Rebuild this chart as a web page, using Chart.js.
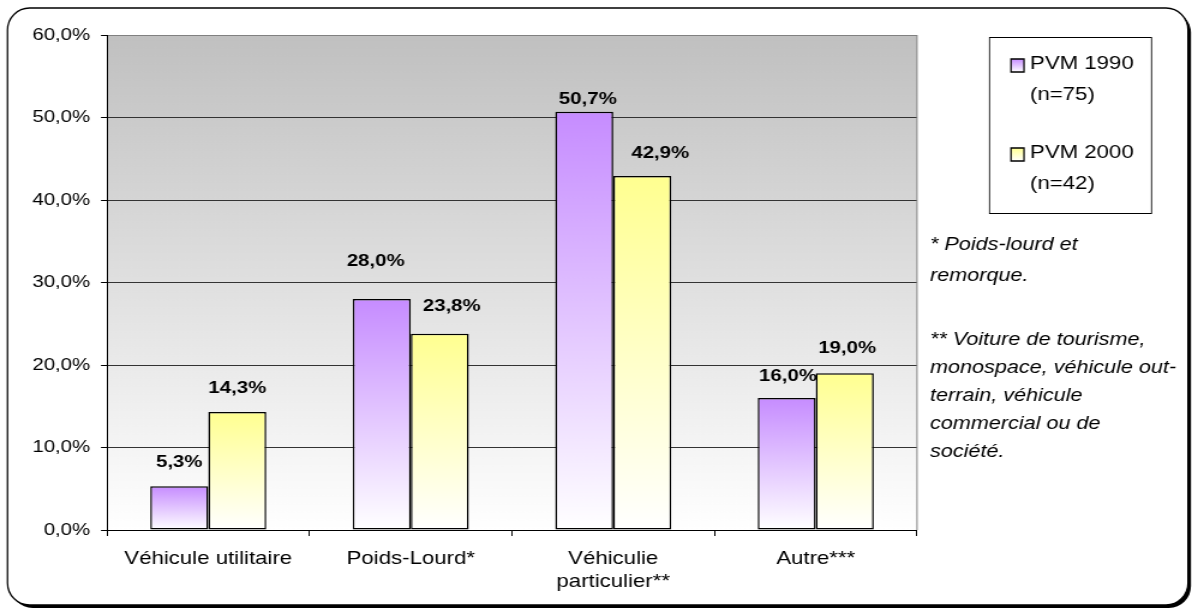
<!DOCTYPE html>
<html>
<head>
<meta charset="utf-8">
<script src="https://cdn.jsdelivr.net/npm/chart.js@4.4.1/dist/chart.umd.min.js"></script>
<style>
  html, body { margin: 0; padding: 0; background: #fff; }
  #chart { display: block; }
</style>
</head>
<body>
<!-- the canvas is drawn narrow and stretched wide, like the exported sheet -->
<canvas id="chart" width="993" height="609" style="width:1192px;height:609px"></canvas>
<script>
const categories = ['Véhicule utilitaire', 'Poids-Lourd*', ['Véhiculie', 'particulier**'], 'Autre***'];
const pvm1990 = [5.3, 28.0, 50.7, 16.0];
const pvm2000 = [14.3, 23.8, 42.9, 19.0];
const seriesLabels = [['PVM 1990', '(n=75)'], ['PVM 2000', '(n=42)']];
const yTicks = [0, 10, 20, 30, 40, 50, 60];
const notes = [
    '* Poids-lourd et',
    'remorque.',
    '** Voiture de tourisme,',
    'monospace, véhicule out-',
    'terrain, véhicule',
    'commercial ou de',
    'société.'
];

// horizontal stretch between canvas and page
const SX = 1192 / 993;
const W = 993;
const PURPLE = '#c68cff';
const YELLOW = '#ffff90';
const FONT = 'Arial, "Liberation Sans", sans-serif';

// value label nudges [dx, lift above bar]
const nudge1990 = [[0, 24], [-5, 38], [3, 12], [1, 22]];
const nudge2000 = [[0, 24], [10, 27], [15, 23], [2, 25]];

const pct = v => v.toFixed(1).replace('.', ',') + '%';

function barFill(c, top) {
    const chart = c.chart;
    const area = chart.chartArea;
    if (!area || c.type !== 'data') return top;
    const y = chart.scales.y.getPixelForValue(c.raw);
    const g = chart.ctx.createLinearGradient(0, y, 0, area.bottom);
    g.addColorStop(0, top);
    g.addColorStop(1, '#ffffff');
    return g;
}

const decor = {
    id: 'decor',
    beforeDraw(chart) {
        const ctx = chart.ctx;
        const a = chart.chartArea;
        ctx.save();
        ctx.scale(1 / SX, 1);
        // rounded frame with its drop shadow
        ctx.fillStyle = '#000';
        ctx.beginPath();
        ctx.roundRect(10.5, 11, 1180.5, 597, 22);
        ctx.fill();
        ctx.fillStyle = '#fff';
        ctx.strokeStyle = '#000';
        ctx.lineWidth = 1.5;
        ctx.beginPath();
        ctx.roundRect(7.5, 8, 1180.5, 597, 22);
        ctx.fill();
        ctx.stroke();
        ctx.restore();

        // grey-to-white plot background
        const g = ctx.createLinearGradient(0, a.top, 0, a.bottom);
        g.addColorStop(0, '#c0c0c0');
        g.addColorStop(1, '#ffffff');
        ctx.fillStyle = g;
        ctx.fillRect(a.left, a.top, a.width, a.height);
    },
    afterDatasetsDraw(chart) {
        const ctx = chart.ctx;
        ctx.save();
        ctx.font = 'bold 17px ' + FONT;
        ctx.fillStyle = '#000';
        ctx.textAlign = 'center';
        ctx.textBaseline = 'middle';
        [nudge1990, nudge2000].forEach((nudge, d) => {
            const ds = chart.data.datasets[d];
            chart.getDatasetMeta(d).data.forEach((bar, i) => {
                ctx.fillText(pct(ds.data[i]), bar.x + nudge[i][0], bar.y - nudge[i][1]);
            });
        });
        ctx.restore();
    },
    afterDraw(chart) {
        const ctx = chart.ctx;
        const a = chart.chartArea;
        ctx.save();
        // plot border on the right
        ctx.strokeStyle = '#808080';
        ctx.lineWidth = 1;
        ctx.beginPath();
        ctx.moveTo(a.right, a.top);
        ctx.lineTo(a.right, a.bottom);
        ctx.stroke();

        // legend box and swatches
        ctx.save();
        ctx.scale(1 / SX, 1);
        ctx.strokeStyle = '#000';
        ctx.lineWidth = 1;
        ctx.strokeRect(989.5, 37.5, 162, 176);
        [[PURPLE, 59], [YELLOW, 148]].forEach(([col, y]) => {
            const g = ctx.createLinearGradient(0, y, 0, y + 13);
            g.addColorStop(0, col);
            g.addColorStop(1, '#ffffff');
            ctx.fillStyle = g;
            ctx.fillRect(1011, y, 13, 13);
            ctx.lineWidth = 1.5;
            ctx.strokeRect(1011, y, 13, 13);
        });
        ctx.restore();

        ctx.fillStyle = '#000';
        ctx.textAlign = 'left';
        ctx.textBaseline = 'middle';
        ctx.font = '18.5px ' + FONT;
        const legendY = [[64, 95], [153, 184]];
        seriesLabels.forEach((lines, d) => {
            lines.forEach((t, k) => ctx.fillText(t, 1030 / SX, legendY[d][k]));
        });

        // footnotes
        ctx.font = 'italic 18px ' + FONT;
        const noteY = [245, 276, 340, 368, 396, 424, 452];
        notes.forEach((t, k) => ctx.fillText(t, 930 / SX, noteY[k]));
        ctx.restore();
    }
};

new Chart(document.getElementById('chart'), {
    type: 'bar',
    data: {
        labels: categories,
        datasets: [{
            label: seriesLabels[0].join(' '),
            data: pvm1990,
            backgroundColor: c => barFill(c, PURPLE),
            borderColor: '#000',
            borderWidth: 1.5,
            borderSkipped: false
        }, {
            label: seriesLabels[1].join(' '),
            data: pvm2000,
            backgroundColor: c => barFill(c, YELLOW),
            borderColor: '#000',
            borderWidth: 1.5,
            borderSkipped: false
        }]
    },
    options: {
        responsive: false,
        animation: false,
        categoryPercentage: 0.573,
        barPercentage: 1,
        layout: { padding: { left: 0, right: W - 917 / SX, top: 35, bottom: 0 } },
        plugins: {
            legend: { display: false },
            tooltip: { enabled: false }
        },
        scales: {
            x: {
                afterFit: s => { s.height = 609 - 530; },
                grid: { offset: true, drawOnChartArea: false, color: '#000', tickLength: 6 },
                border: { color: '#000', width: 1 },
                ticks: {
                    color: '#000',
                    padding: 11,
                    maxRotation: 0,
                    autoSkip: false,
                    font: { family: FONT, size: 18.5, lineHeight: '23px' }
                }
            },
            y: {
                min: yTicks[0],
                max: yTicks[yTicks.length - 1],
                afterFit: s => { s.width = 107 / SX; },
                afterBuildTicks: s => { s.ticks = yTicks.map(v => ({ value: v })); },
                grid: {
                    color: c => c.tick && c.tick.value === 60 ? '#808080' : '#333',
                    tickColor: '#000',
                    tickLength: 5
                },
                border: { color: '#000', width: 1 },
                ticks: {
                    color: '#000',
                    padding: 9,
                    callback: v => pct(v),
                    font: { family: FONT, size: 17 }
                }
            }
        }
    },
    plugins: [decor]
});
</script>
</body>
</html>
